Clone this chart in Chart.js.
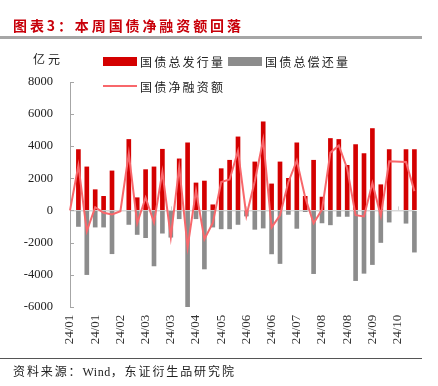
<!DOCTYPE html>
<html>
<head>
<meta charset="utf-8">
<script src="https://cdn.jsdelivr.net/npm/chart.js@4/dist/chart.umd.min.js"></script>
<style>
  html, body { margin: 0; padding: 0; background: #fff; }
  #wrap { position: relative; width: 438px; height: 386px; overflow: hidden; }
  #chartBox { position: absolute; left: 0; top: 0; width: 438px; height: 386px; }
  .cjk { font-family: "Noto Sans CJK SC", sans-serif; position: absolute; white-space: nowrap; }
  #title { left: 13px; top: 15px; font-size: 14px; letter-spacing: 2.9px; color: #c8000a; font-weight: 700; }
  #titleRule { position: absolute; left: 0; top: 36px; width: 422px; height: 3px; background: #a6a6a6; }
  #unit { left: 33px; top: 50px; font-size: 12px; letter-spacing: 3px; color: #222; }
  .lgText { font-size: 12px; letter-spacing: 2.2px; color: #222; }
  .lgBox { position: absolute; width: 34px; height: 9px; }
  .lgLine { position: absolute; width: 34px; height: 2px; }
  #bottomRule { position: absolute; left: 0; top: 358px; width: 422px; height: 1px; background: #555; }
  #source { left: 13px; top: 362px; font-size: 12px; letter-spacing: 1.9px; color: #222; }
  #source .lat { font-family: "Liberation Serif", serif; letter-spacing: 0.5px; }
</style>
</head>
<body>
<div id="wrap">
  <div id="chartBox"><canvas id="chart"></canvas></div>
  <div id="title" class="cjk">图表3：本周国债净融资额回落</div>
  <div id="titleRule"></div>
  <div id="unit" class="cjk">亿元</div>
  <div id="legend"></div>
  <div id="bottomRule"></div>
  <div id="source" class="cjk">资料来源：<span class="lat">Wind</span>，东证衍生品研究院</div>
</div>
<script>
// weekly, weeks ending Sunday 2024-01-07 .. 2024-10-20
const weeks = [
  "24/01", "24/01", "24/01", "24/01", "24/02", "24/02", "24/02", "24/02",
  "24/03", "24/03", "24/03", "24/03", "24/03", "24/04", "24/04", "24/04",
  "24/04", "24/05", "24/05", "24/05", "24/05", "24/06", "24/06", "24/06",
  "24/06", "24/06", "24/07", "24/07", "24/07", "24/07", "24/08", "24/08",
  "24/08", "24/08", "24/09", "24/09", "24/09", "24/09", "24/09", "24/10",
  "24/10", "24/10"
];

const issue = [
  null, 3790, 2710, 1290, 875, 2460, null, 4420, 790, 2540, 2710, 3810, null, 3210,
  4210, 1710, 1830, 350, 2600, 3125, 4580, null, 3020, 5520, 1650, 3020, 2000, 4210,
  875, 3125, 830, 4480, 4420, 2810, 4100, 3540, 5100, 1600, 3790, null, 3790, 3790
];

const redeem = [
  null, -1000, -4000, -1040, -1040, -2700, null, -875, -1500, -1700, -3460, -1420, -1670, -520,
  -6000, -520, -3650, -1040, -1150, -1150, -875, -350, -1180, -1100, -2710, -3310, -250, -1120,
  -80, -3940, -780, -900, -375, -375, -4375, -3920, -3375, -2000, -730, null, -800, -2600
];

const net = [
  0, 2800, -1290, 200, -150, -250, -50, 3540, -800, 800, -750, 2400, -1670, 2700,
  -2300, 1230, -1790, -780, 1770, 1930, 3700, -330, 1820, 4400, -1060, -300, 1770, 3100,
  800, -800, 50, 3600, 4050, 2600, -300, -380, 1700, -350, 3060, null, 3020, 1200
];

const yTicks = [-6000, -4000, -2000, 0, 2000, 4000, 6000, 8000];

const RED = "#d40000";
const GREY = "#8c8c8c";
const PINK = "#f8676b";

const series = [
  { name: "国债总发行量", kind: "box", color: RED, x: 103, y: 57, tx: 140, ty: 53 },
  { name: "国债总偿还量", kind: "box", color: GREY, x: 228, y: 57, tx: 265, ty: 53 },
  { name: "国债净融资额", kind: "line", color: PINK, x: 103, y: 85, tx: 140, ty: 78 }
];

function buildLegend() {
  const el = document.getElementById("legend");
  series.forEach((s) => {
    const mark = document.createElement("div");
    mark.className = s.kind === "box" ? "lgBox" : "lgLine";
    mark.style.left = s.x + "px";
    mark.style.top = s.y + "px";
    mark.style.background = s.color;
    el.appendChild(mark);
    const t = document.createElement("div");
    t.className = "cjk lgText";
    t.style.left = s.tx + "px";
    t.style.top = s.ty + "px";
    t.textContent = s.name;
    el.appendChild(t);
  });
}

// short inner tick marks on the y axis and on the zero line
const innerTicks = {
  id: "innerTicks",
  beforeDatasetsDraw(chart) {
    const { ctx, scales } = chart;
    const x = scales.x;
    const y = scales.y;
    ctx.save();
    ctx.lineWidth = 1;
    ctx.strokeStyle = "#a6a6a6";
    yTicks.forEach((v) => {
      const py = Math.round(y.getPixelForValue(v)) + 0.5;
      ctx.beginPath();
      ctx.moveTo(x.left, py);
      ctx.lineTo(x.left + 4, py);
      ctx.stroke();
    });
    ctx.strokeStyle = "#cfcfcf";
    const zy = y.getPixelForValue(0);
    weeks.forEach((w, i) => {
      if (i % 3 !== 0 || i === 0) return;
      const px = Math.round(x.getPixelForValue(i)) + 0.5;
      ctx.beginPath();
      ctx.moveTo(px, zy);
      ctx.lineTo(px, zy - 4);
      ctx.stroke();
    });
    ctx.restore();
  }
};

const chart = new Chart(document.getElementById("chart"), {
  type: "bar",
  data: {
    labels: weeks,
    datasets: [
      {
        type: "line",
        label: "国债净融资额",
        data: net,
        borderColor: PINK,
        borderWidth: 2,
        pointRadius: 0,
        tension: 0,
        spanGaps: true,
        order: 0,
        clip: false
      },
      {
        label: "国债总发行量",
        data: issue,
        backgroundColor: RED,
        barThickness: 4,
        grouped: false,
        order: 1,
        clip: false
      },
      {
        label: "国债总偿还量",
        data: redeem,
        backgroundColor: GREY,
        barThickness: 4,
        grouped: false,
        order: 2,
        clip: false
      }
    ]
  },
  options: {
    responsive: true,
    maintainAspectRatio: false,
    animation: false,
    layout: { padding: { left: 0, top: 82, right: 20.7, bottom: 0 } },
    plugins: { legend: { display: false }, tooltip: { enabled: false } },
    scales: {
      x: {
        offset: false,
        grid: { display: false, drawTicks: false },
        border: { display: false },
        ticks: {
          autoSkip: false,
          minRotation: 90,
          maxRotation: 90,
          padding: 8,
          color: "#333",
          font: { family: "'Liberation Serif', serif", size: 13 },
          callback: (v, i) => (i % 3 === 0 ? weeks[i] : "")
        },
        afterFit: (s) => { s.height = 79.3; }
      },
      y: {
        min: -6000,
        max: 8000,
        afterBuildTicks: (s) => { s.ticks = yTicks.map((v) => ({ value: v })); },
        grid: {
          drawTicks: false,
          color: (c) => (c.tick && c.tick.value === 0 ? "#d9d9d9" : "rgba(0,0,0,0)"),
          lineWidth: 1.5
        },
        border: { display: true, color: "#a6a6a6", width: 1 },
        ticks: {
          padding: 17,
          color: "#222",
          font: { family: "'Liberation Serif', serif", size: 12.5 },
          callback: (v) => String(v)
        },
        afterFit: (s) => { s.width = 70; }
      }
    }
  },
  plugins: [innerTicks]
});

buildLegend();
</script>
</body>
</html>
